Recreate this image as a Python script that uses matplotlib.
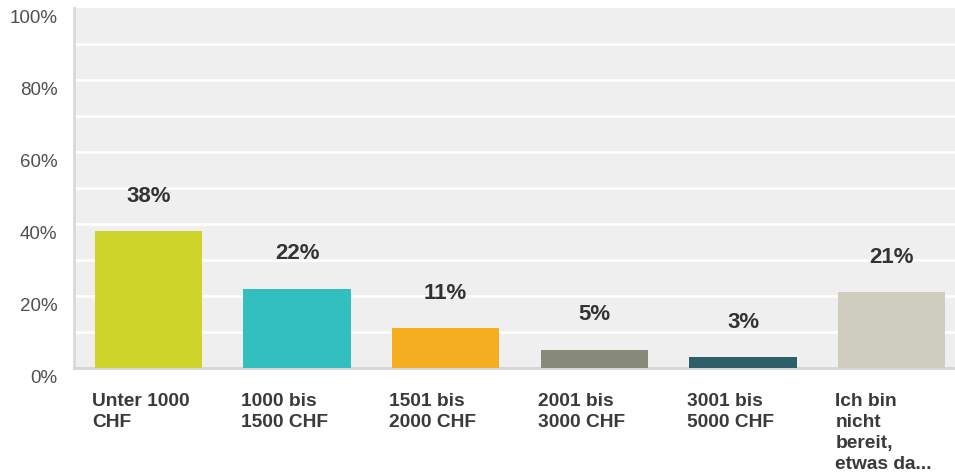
import matplotlib
matplotlib.use("Agg")
import matplotlib.pyplot as plt

categories = ["Unter 1000\nCHF", "1000 bis\n1500 CHF", "1501 bis\n2000 CHF",
              "2001 bis\n3000 CHF", "3001 bis\n5000 CHF",
              "Ich bin\nnicht\nbereit,\netwas da..."]
values = [38, 22, 11, 5, 3, 21]
colors = ["#cfd42a", "#33bec0", "#f5ae1f", "#878a78", "#2d5f6b", "#cfcdbf"]
yticks = [0, 20, 40, 60, 80, 100]

plt.rcParams['font.family'] = ['Liberation Sans', 'DejaVu Sans']

W, H = 955, 477
fig = plt.figure(figsize=(W/100, H/100), dpi=100)
left, right, top, bottom = 74, 966, 9, 369
ax = fig.add_axes([left/W, (H-bottom)/H, (right-left)/W, (bottom-top)/H])
ax.set_facecolor("#efefef")

width = 0.72
x = list(range(len(values)))
ax.bar(x, values, width=width, color=colors, zorder=3)
ax.set_xlim(-0.5, len(values) - 0.5)
ax.set_ylim(0, 100)

ax.set_yticks(yticks)
ax.set_yticklabels([])
ax.tick_params(axis='y', length=0)
ax.tick_params(axis='x', length=0, labelbottom=False)
ax.set_xticks([])

for yv in yticks:
    ax.annotate(f"{yv}%", xy=(0, yv), xycoords=("axes fraction", "data"),
                xytext=(-12, -7), textcoords="offset points",
                ha="right", va="center", fontsize=13.5, color="#505050",
                annotation_clip=False)

for g in range(10, 100, 10):
    ax.axhline(g, color="white", linewidth=1.8, zorder=1)

for s in ["top", "right"]:
    ax.spines[s].set_visible(False)
ax.spines["left"].set_color("#d9d9d9")
ax.spines["left"].set_linewidth(2)
ax.spines["bottom"].set_color("#d4d4d4")
ax.spines["bottom"].set_linewidth(2)

for xi, v in zip(x, values):
    ax.annotate(f"{v}%", xy=(xi, v), xytext=(0, 26), textcoords="offset points",
                ha="center", va="center", fontsize=16, fontweight="bold",
                color="#333333")

for xi, lab in zip(x, categories):
    ax.annotate(lab, xy=(xi - width/2, 0), xycoords=("data", "axes fraction"),
                xytext=(-2, -17), textcoords="offset points",
                ha="left", va="top", fontsize=13.8, fontweight="bold",
                color="#3a3a3a", linespacing=1.32, annotation_clip=False)

fig.savefig("out.png", dpi=100)
